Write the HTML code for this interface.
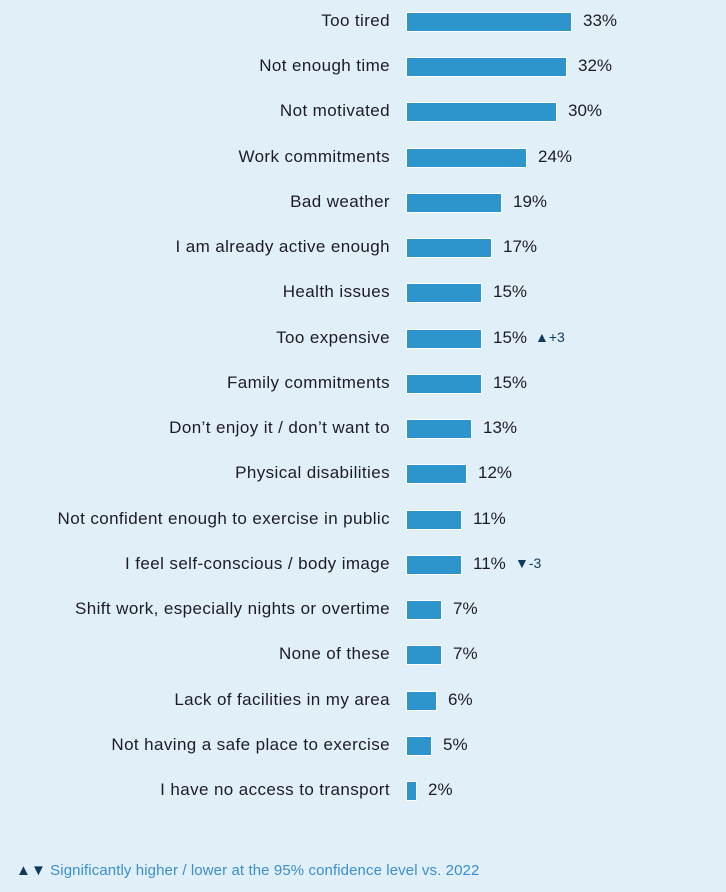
<!DOCTYPE html>
<html><head><style>
body{margin:0;width:726px;height:892px;background:#e1eff9;font-family:"Liberation Sans",sans-serif;position:relative;overflow:hidden;color:#1c1c28}
.l{position:absolute;right:336px;font-size:17px;white-space:nowrap;letter-spacing:0.4px;line-height:20px}
.b{position:absolute;left:406px;height:20px;background:#2e94cc;border:1px solid #fff;box-sizing:border-box}
.v{position:absolute;font-size:17px;line-height:20px;letter-spacing:0}
.s{position:absolute;font-size:14px;line-height:20px;color:#0f3a5e}
.f{position:absolute;left:16px;top:862px;font-size:15px;color:#3a8fd0;letter-spacing:0.1px}
</style></head><body>
<div id="c"></div>
<div class="f"><span style="color:#0f3a5e">▲▼</span> Significantly higher / lower at the 95% confidence level vs. 2022</div>
<script>
var d=[["Too tired",33],["Not enough time",32],["Not motivated",30],["Work commitments",24],["Bad weather",19],["I am already active enough",17],["Health issues",15],["Too expensive",15,"▲+3"],["Family commitments",15],["Don’t enjoy it / don’t want to",13],["Physical disabilities",12],["Not confident enough to exercise in public",11],["I feel self-conscious / body image",11,"▼-3"],["Shift work, especially nights or overtime",7],["None of these",7],["Lack of facilities in my area",6],["Not having a safe place to exercise",5],["I have no access to transport",2]];
var h="";
d.forEach(function(r,i){var y=21+i*45.24-10;var w=r[1]*5+1;
h+='<div class="l" style="top:'+y+'px">'+r[0]+'</div>';
h+='<div class="b" style="top:'+(y+1)+'px;width:'+w+'px"></div>';
h+='<div class="v" style="top:'+y+'px;left:'+(406+w+11)+'px">'+r[1]+'%</div>';
if(r[2])h+='<div class="s" style="top:'+(y-1)+'px;left:'+(406+w+53)+'px">'+r[2]+'</div>';});
document.getElementById("c").innerHTML=h;
</script>
</body></html>
